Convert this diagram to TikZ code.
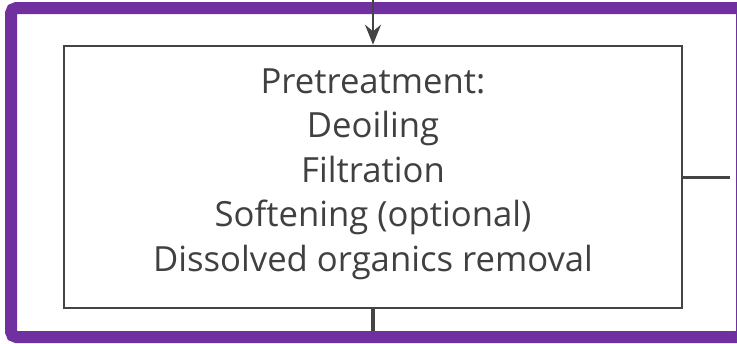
\documentclass[tikz,border=0pt]{standalone}
\usepackage{fontspec}
\setmainfont{Open Sans}
\usetikzlibrary{arrows.meta}
\definecolor{framepurple}{RGB}{112,48,160}
\definecolor{linegray}{RGB}{68,68,68}
\definecolor{textgray}{RGB}{64,64,64}

\begin{document}
\begin{tikzpicture}
  [x=0.75pt,y=-0.75pt,
   stage/.style={draw=linegray,line width=1.5pt,fill=white,inner sep=0pt,
     minimum width=464pt,minimum height=197pt,align=center,text=textgray},
   flow/.style={draw=linegray,line width=1.5pt}]
  \useasboundingbox (0,0) rectangle (737,343);
  % outer frame
  \draw[framepurple,line width=9pt,rounded corners=4pt] (11,8) rectangle (742,337);
  \node[stage] (pretreat) at (373,177) {};
  \node[text=textgray,align=center,font=\fontsize{26}{33.4}\selectfont] (steps) at (373,174)
    {Pretreatment:\\Deoiling\\Filtration\\Softening (optional)\\Dissolved organics removal};
  \coordinate (feed) at (373,0);
  \coordinate (side) at (730,177);
  \coordinate (drain) at (373,331);
  \draw[flow,-{Stealth[length=15pt,width=12pt,inset=5pt]}] (feed) -- (pretreat.north);
  \draw[flow,line width=2.25pt] (pretreat.east) -- (side);
  \draw[flow,line width=3pt] (pretreat.south) -- (drain);
\end{tikzpicture}
\end{document}
